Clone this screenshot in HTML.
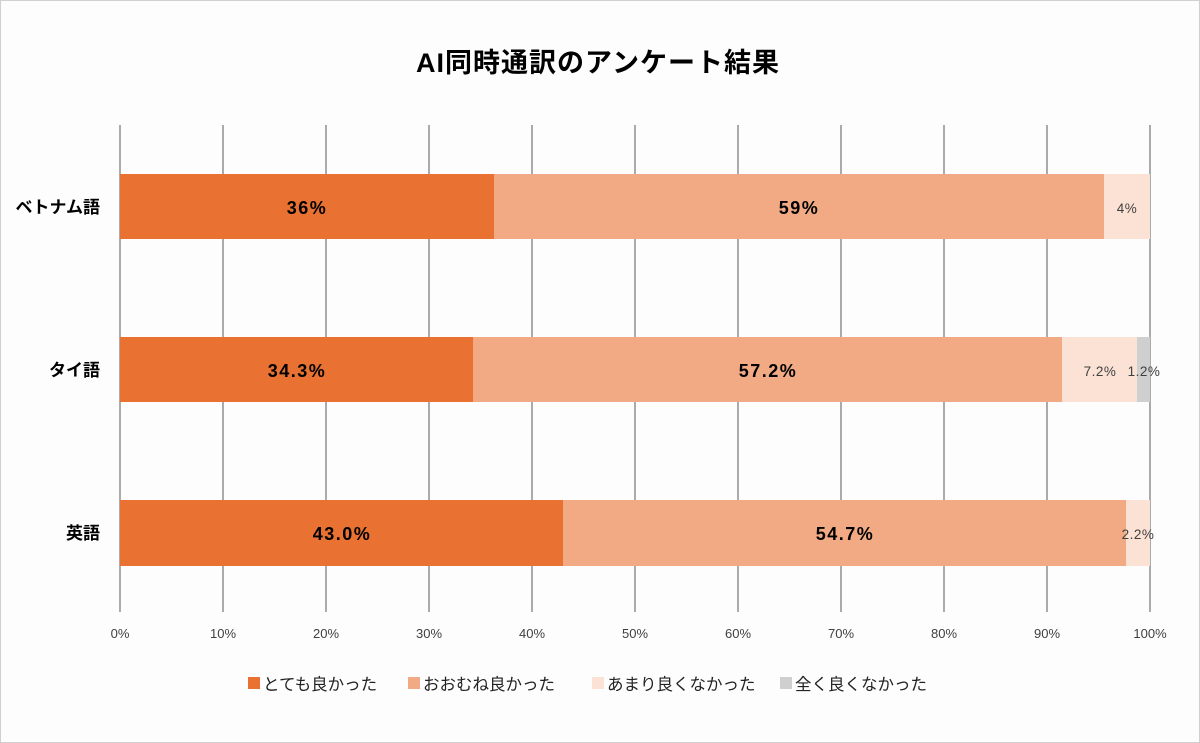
<!DOCTYPE html>
<html><head><meta charset="utf-8"><style>
html,body{margin:0;padding:0;background:#fff}
svg{display:block}
text{font-family:"Liberation Sans","Noto Sans CJK JP",sans-serif}
</style></head><body>
<svg width="1200" height="743" viewBox="0 0 1200 743">
<rect x="0.5" y="0.5" width="1199" height="742" fill="#fdfdfd" stroke="#d0d0d0"/>
<text x="598" y="72" text-anchor="middle" font-size="27" font-weight="bold" letter-spacing="1" fill="#000">AI同時通訳のアンケート結果</text>
<g stroke="#7f7f7f" stroke-width="1.3">
<line x1="120" y1="125" x2="120" y2="612"/><line x1="223" y1="125" x2="223" y2="612"/><line x1="326" y1="125" x2="326" y2="612"/><line x1="429" y1="125" x2="429" y2="612"/><line x1="532" y1="125" x2="532" y2="612"/><line x1="635" y1="125" x2="635" y2="612"/><line x1="738" y1="125" x2="738" y2="612"/><line x1="841" y1="125" x2="841" y2="612"/><line x1="944" y1="125" x2="944" y2="612"/><line x1="1047" y1="125" x2="1047" y2="612"/><line x1="1150" y1="125" x2="1150" y2="612"/>
</g>
<g>
<rect x="120" y="174" width="374" height="65" fill="#e97132"/>
<rect x="494" y="174" width="610" height="65" fill="#f1aa83"/>
<rect x="1104" y="174" width="46" height="65" fill="#fbe2d5"/>
<rect x="120" y="337" width="353" height="65" fill="#e97132"/>
<rect x="473" y="337" width="589" height="65" fill="#f1aa83"/>
<rect x="1062" y="337" width="75" height="65" fill="#fbe2d5"/>
<rect x="1137" y="337" width="13" height="65" fill="#cfcfcf"/>
<rect x="120" y="500" width="443" height="66" fill="#e97132"/>
<rect x="563" y="500" width="563" height="66" fill="#f1aa83"/>
<rect x="1126" y="500" width="24" height="66" fill="#fbe2d5"/>
</g>
<g font-size="18" font-weight="bold" fill="#000" text-anchor="middle" letter-spacing="1.5">
<text x="307" y="214">36%</text><text x="799" y="214">59%</text>
<text x="297" y="377">34.3%</text><text x="768" y="377">57.2%</text>
<text x="342" y="540">43.0%</text><text x="845" y="540">54.7%</text>
</g>
<g font-size="13.5" fill="#404040" text-anchor="middle" letter-spacing="0.5">
<text x="1127" y="213">4%</text>
<text x="1100" y="376">7.2%</text><text x="1144" y="376">1.2%</text>
<text x="1138" y="539">2.2%</text>
</g>
<g font-size="17" font-weight="bold" fill="#000" text-anchor="end">
<text x="100" y="213">ベトナム語</text><text x="100" y="376">タイ語</text><text x="100" y="539">英語</text>
</g>
<g font-size="13" fill="#404040" text-anchor="middle">
<text x="120" y="638">0%</text><text x="223" y="638">10%</text><text x="326" y="638">20%</text><text x="429" y="638">30%</text><text x="532" y="638">40%</text><text x="635" y="638">50%</text><text x="738" y="638">60%</text><text x="841" y="638">70%</text><text x="944" y="638">80%</text><text x="1047" y="638">90%</text><text x="1150" y="638">100%</text>
</g>
<g font-size="16.5" fill="#222">
<rect x="248" y="677" width="12" height="12" fill="#e97132"/><text x="263" y="690">とても良かった</text>
<rect x="408" y="677" width="12" height="12" fill="#f1aa83"/><text x="423" y="690">おおむね良かった</text>
<rect x="592" y="677" width="12" height="12" fill="#fbe2d5"/><text x="607" y="690">あまり良くなかった</text>
<rect x="780" y="677" width="12" height="12" fill="#cfcfcf"/><text x="795" y="690">全く良くなかった</text>
</g>
</svg>
</body></html>
